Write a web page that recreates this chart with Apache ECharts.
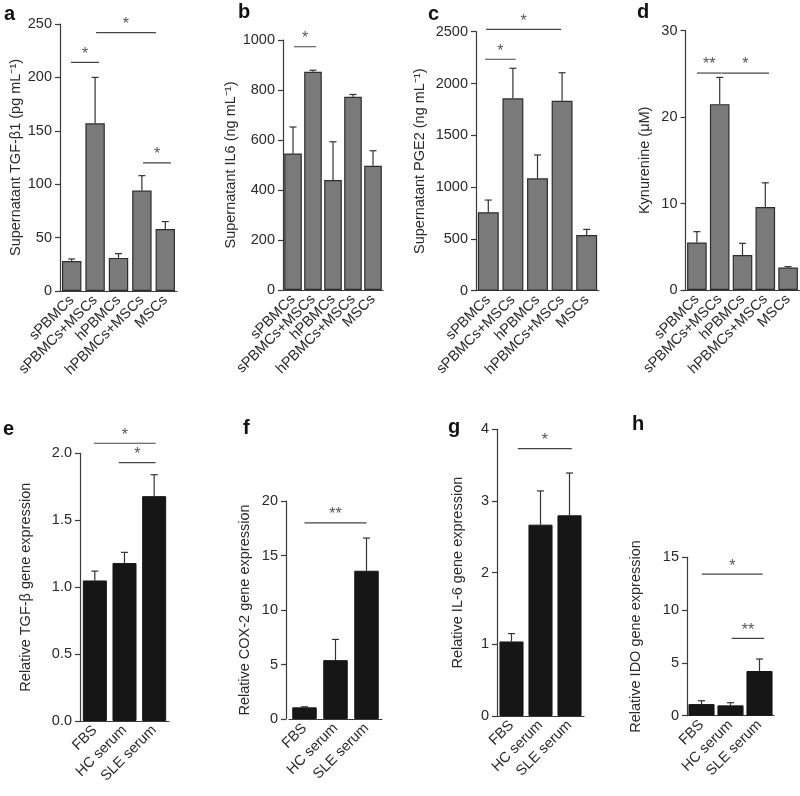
<!DOCTYPE html>
<html>
<head>
<meta charset="utf-8">
<script src="https://cdn.jsdelivr.net/npm/echarts@6/dist/echarts.min.js"></script>
<style>
html,body{margin:0;padding:0;background:#fff;}
#chart{width:800px;height:796px;}
</style>
</head>
<body>
<div id="chart"></div>
<script>
// ---------- DATA ----------
const catsTop = ['sPBMCs', 'sPBMCs+MSCs', 'hPBMCs', 'hPBMCs+MSCs', 'MSCs'];
const catsBottom = ['FBS', 'HC serum', 'SLE serum'];

// a: supernatant TGF-β1
const tgfMean = [28, 157, 31, 94, 58];
const tgfSem = [2, 43, 4, 14, 7];
const tgfSig = [[-0.03, 1.17, 214, '*'], [1.04, 3.6, 242, '*'], [3.05, 4.24, 120, '*']];
// b: supernatant IL6
const il6Mean = [546, 873, 440, 773, 497];
const il6Sem = [106, 6, 153, 9, 60];
const il6Sig = [[0.05, 1.15, 973, '*']];
// c: supernatant PGE2
const pgeMean = [757, 1857, 1085, 1834, 538];
const pgeSem = [118, 290, 225, 270, 54];
const pgeSig = [[-0.13, 1.11, 2234, '*'], [-0.09, 2.96, 2523, '*']];
// d: kynurenine
const kynMean = [5.5, 21.5, 4.05, 9.6, 2.6];
const kynSem = [1.25, 3.1, 1.35, 2.8, 0.1];
const kynSig = [[0.0, 1.09, 25.1, '**'], [1.1, 3.16, 25.1, '*']];
// e: relative TGF-β expression
const tgfGeneMean = [1.05, 1.18, 1.68];
const tgfGeneSem = [0.07, 0.08, 0.16];
const tgfGeneSig = [[-0.03, 2.05, 2.075, '*'], [0.81, 2.05, 1.93, '*']];
// f: relative COX-2 expression
const coxMean = [1.07, 5.4, 13.6];
const coxSem = [0.05, 1.9, 3.0];
const coxSig = [[0.0, 2.0, 18.0, '**']];
// g: relative IL-6 expression
const il6GeneMean = [1.04, 2.67, 2.8];
const il6GeneSem = [0.11, 0.47, 0.59];
const il6GeneSig = [[0.22, 2.08, 3.73, '*']];
// h: relative IDO expression
const idoMean = [1.1, 0.98, 4.23];
const idoSem = [0.32, 0.25, 1.14];
const idoSig = [[0.01, 2.11, 13.4, '*'], [1.04, 2.16, 7.33, '**']];

// y-axis ticks: [max, interval, decimals]
const yTicks = {
  a: [250, 50, 0], b: [1000, 200, 0], c: [2500, 500, 0], d: [30, 10, 0],
  e: [2, 0.5, 1], f: [20, 5, 0], g: [4, 1, 0], h: [15, 5, 0]
};
const yNames = {
  a: 'Supernatant TGF-β1 (pg mL⁻¹)',
  b: 'Supernatant IL6 (ng mL⁻¹)',
  c: 'Supernatant PGE2 (ng mL⁻¹)',
  d: 'Kynurenine (μM)',
  e: 'Relative TGF-β gene expression',
  f: 'Relative COX-2 gene expression',
  g: 'Relative IL-6 gene expression',
  h: 'Relative IDO gene expression'
};

// ---------- LAYOUT / STYLE ----------
const panels = [
  {k: 'a', cats: catsTop, mean: tgfMean, sem: tgfSem, sig: tgfSig, g: {left: 60, top: 24, width: 117, height: 267}, gap: '17%', nameGap: 37, off: 0, lab: [4, 21], top: true},
  {k: 'b', cats: catsTop, mean: il6Mean, sem: il6Sem, sig: il6Sig, g: {left: 283, top: 40, width: 100, height: 250}, gap: '12%', nameGap: 41, off: 0, lab: [238, 19], top: true},
  {k: 'c', cats: catsTop, mean: pgeMean, sem: pgeSem, sig: pgeSig, g: {left: 476, top: 31.7, width: 123, height: 259}, gap: '15%', nameGap: 49, off: 0, lab: [428, 21], top: true},
  {k: 'd', cats: catsTop, mean: kynMean, sem: kynSem, sig: kynSig, g: {left: 685.5, top: 30.7, width: 114, height: 259.3}, gap: '14%', nameGap: 33, off: 0, lab: [637, 19], top: true},
  {k: 'e', cats: catsBottom, mean: tgfGeneMean, sem: tgfGeneSem, sig: tgfGeneSig, g: {left: 80, top: 453.3, width: 89, height: 267.7}, gap: '19%', nameGap: 47, off: 0, lab: [3, 436], top: false},
  {k: 'f', cats: catsBottom, mean: coxMean, sem: coxSem, sig: coxSig, g: {left: 289, top: 501, width: 93, height: 218}, gap: '21%', nameGap: 34, off: 3, lab: [243, 435], top: false},
  {k: 'g', cats: catsBottom, mean: il6GeneMean, sem: il6GeneSem, sig: il6GeneSig, g: {left: 497, top: 429.3, width: 87, height: 286.7}, gap: '17%', nameGap: 32, off: 0, lab: [448, 434], top: false},
  {k: 'h', cats: catsBottom, mean: idoMean, sem: idoSem, sig: idoSig, g: {left: 687, top: 557.3, width: 87, height: 158.4}, gap: '10%', nameGap: 44, off: 0, lab: [632, 431], top: false}
];

const FONT = "'Liberation Sans', Arial, Helvetica, sans-serif";
const AX = '#3a3a3a';
const TXT = '#2a2a2a';
const FS = 14.5;

const grid = [], xAxis = [], yAxis = [], series = [], graphic = [];

panels.forEach((p, k) => {
  grid.push(Object.assign({containLabel: false}, p.g));
  const n = p.cats.length;
  xAxis.push({
    type: 'category', gridIndex: k, data: p.cats,
    axisLine: {onZero: false, lineStyle: {color: AX, width: 1.2}},
    axisTick: {alignWithLabel: true, length: 5, lineStyle: {color: AX, width: 1.2}},
    axisLabel: {rotate: 45, interval: 0, fontSize: FS, color: TXT, fontFamily: FONT, margin: 7}
  });
  xAxis.push({type: 'value', gridIndex: k, min: -0.5, max: n - 0.5, show: false,
    axisLine: {onZero: false}});
  const t = yTicks[p.k];
  yAxis.push({
    type: 'value', gridIndex: k, min: 0, max: t[0], interval: t[1], offset: p.off,
    name: yNames[p.k], nameLocation: 'middle', nameGap: p.nameGap,
    nameTextStyle: {fontSize: FS, color: TXT, fontFamily: FONT},
    axisLine: {show: true, onZero: false, lineStyle: {color: AX, width: 1.2}},
    axisTick: {show: true, length: 5, lineStyle: {color: AX, width: 1.2}},
    splitLine: {show: false},
    axisLabel: {fontSize: FS, color: TXT, fontFamily: FONT, margin: 8,
      formatter: v => v.toFixed(t[2])}
  });
  series.push({
    type: 'bar', xAxisIndex: 2 * k, yAxisIndex: k, data: p.mean,
    barCategoryGap: p.gap, z: 3,
    itemStyle: p.top ? {color: '#7a7a7a', borderColor: '#2e2e2e', borderWidth: 1.2}
                     : {color: '#161616', borderColor: '#161616', borderWidth: 1}
  });
  series.push({
    type: 'custom', xAxisIndex: 2 * k, yAxisIndex: k, z: 2,
    data: p.mean.map((m, i) => [i, m, m + p.sem[i]]),
    encode: {x: 0, y: [1, 2]},
    renderItem: function (params, api) {
      const a = api.coord([api.value(0), api.value(1)]);
      const b = api.coord([api.value(0), api.value(2)]);
      const hw = 3.5;
      const st = {stroke: '#333', lineWidth: 1.2};
      return {type: 'group', children: [
        {type: 'line', shape: {x1: a[0], y1: a[1], x2: b[0], y2: b[1]}, style: st},
        {type: 'line', shape: {x1: b[0] - hw, y1: b[1], x2: b[0] + hw, y2: b[1]}, style: st}
      ]};
    }
  });
  p.sig.forEach(s => {
    series.push({
      type: 'line', xAxisIndex: 2 * k + 1, yAxisIndex: k, clip: false,
      data: [[s[0], s[2]], [s[1], s[2]]], symbol: 'none', z: 4,
      lineStyle: {color: '#444', width: 1.2}, silent: true
    });
    series.push({
      type: 'scatter', xAxisIndex: 2 * k + 1, yAxisIndex: k, clip: false,
      data: [[(s[0] + s[1]) / 2, s[2]]], symbolSize: 0, z: 4, silent: true,
      label: {show: true, position: 'top', distance: 0, formatter: s[3],
        fontSize: 16, color: TXT, fontFamily: FONT}
    });
  });
  graphic.push({type: 'text', left: p.lab[0], top: p.lab[1] - 17,
    style: {text: p.k, font: 'bold 20px ' + FONT, fill: '#111'}});
});

const chart = echarts.init(document.getElementById('chart'), null, {renderer: 'canvas'});
chart.setOption({
  animation: false,
  backgroundColor: '#fff',
  textStyle: {fontFamily: FONT},
  grid, xAxis, yAxis, series, graphic
});
</script>
</body>
</html>
